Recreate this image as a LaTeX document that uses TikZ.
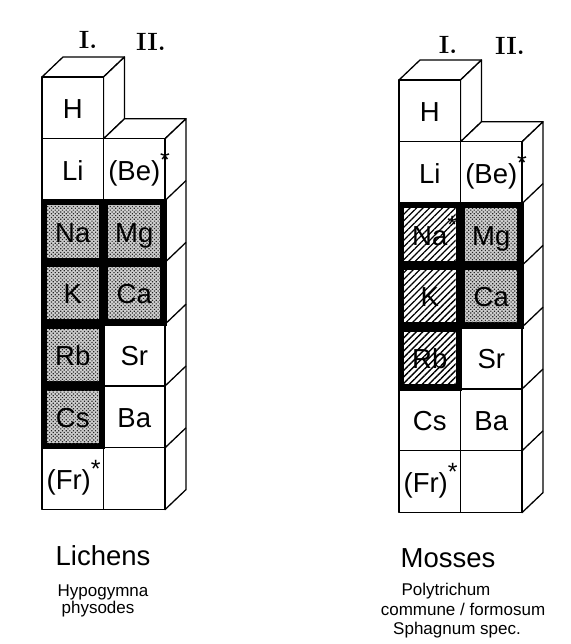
\documentclass[tikz,border=0pt]{standalone}
\usepackage{fontspec}
\setsansfont{Liberation Sans}
\usetikzlibrary{patterns,patterns.meta}
\def\W{61.5}
\def\H{61.8}
\def\DX{21}
\def\DY{-20}
\def\I{4.8}
\def\BL{41.5}
\newcommand\drawstack{%
  \draw[edge,fill=white] (0,0) -- (\W,0) -- (\W+\DX,\DY) -- (\DX,\DY) -- cycle;
  \draw[edge,fill=white] (\W,0) -- (\W+\DX,\DY) -- (\W+\DX,\H+\DY) -- (\W,\H) -- cycle;
  \draw[edge,fill=white] (\W,\H) -- (2*\W,\H) -- (2*\W+\DX,\H+\DY) -- (\W+\DX,\H+\DY) -- cycle;
  \draw[edge,fill=white] (2*\W,\H) -- (2*\W+\DX,\H+\DY) -- (2*\W+\DX,7*\H+\DY) -- (2*\W,7*\H) -- cycle;
  \foreach \k in {2,...,6} \draw[edge] (2*\W,\k*\H) -- (2*\W+\DX,\k*\H+\DY);
  \draw[edge,fill=white] (0,0) rectangle (\W,7*\H);
  \draw[edge,fill=white] (\W,\H) rectangle (2*\W,7*\H);
  \foreach \k in {1,...,6} \draw[edge] (0,\k*\H) -- (2*\W,\k*\H);
}
\newcommand\dotcell[2]{%
  \fill[gray!38] ({#1*\W+\I},{#2*\H+\I}) rectangle ({(#1+1)*\W-\I},{(#2+1)*\H-\I});
  \fill[pattern={Dots[distance=2.6pt,radius=0.85pt,angle=45]},pattern color=black!85]
    ({#1*\W+\I},{#2*\H+\I}) rectangle ({(#1+1)*\W-\I},{(#2+1)*\H-\I});
}
\newcommand\hatchcell[2]{%
  \fill[white] ({#1*\W+\I},{#2*\H+\I}) rectangle ({(#1+1)*\W-\I},{(#2+1)*\H-\I});
  \fill[pattern={Lines[distance=4.6pt,angle=45,line width=1.3pt]},pattern color=black]
    ({#1*\W+\I},{#2*\H+\I}) rectangle ({(#1+1)*\W-\I},{(#2+1)*\H-\I});
}
\newcommand\sstar{\rlap{\raisebox{12pt}{\fontsize{25}{25}\selectfont *}}}
\begin{document}
\begin{tikzpicture}[x=1pt,y=-1pt,
  edge/.style={line width=1.3pt,line join=round},
  el/.style={font=\fontsize{27.5}{27.5}\selectfont\sffamily,inner sep=0pt,anchor=base},
  num/.style={font=\fontsize{25}{25}\selectfont\rmfamily\bfseries,inner sep=0pt},
  big/.style={font=\fontsize{27.5}{27.5}\selectfont\sffamily,inner sep=0pt,anchor=base},
  small/.style={font=\fontsize{17}{17}\selectfont\sffamily,inner sep=0pt,anchor=base}]
\useasboundingbox (0,0) rectangle (570,644);
\fill[white] (0,0) rectangle (570,644);

% ---------------- Lichens stack ----------------
\begin{scope}[shift={(42,77)}]
  \drawstack
  \fill[black,draw=black,line width=3pt,line join=miter]
    (0,2*\H) -- (2*\W,2*\H) -- (2*\W,4*\H) -- (\W,4*\H) -- (\W,6*\H) -- (0,6*\H) -- cycle;
  \dotcell{0}{2}\dotcell{1}{2}
  \dotcell{0}{3}\dotcell{1}{3}
  \dotcell{0}{4}\dotcell{0}{5}
  \node[el] (LH)  at (\W/2,\BL) {H};
  \node[el] (LLi) at (\W/2,\H+\BL) {Li};
  \node[el] (LBe) at (1.5*\W,\H+\BL) {(Be)\sstar};
  \node[el] (LNa) at (\W/2,2*\H+\BL) {Na};
  \node[el] (LMg) at (1.5*\W,2*\H+\BL) {Mg};
  \node[el] (LK)  at (\W/2,3*\H+\BL) {K};
  \node[el] (LCa) at (1.5*\W,3*\H+\BL) {Ca};
  \node[el] (LRb) at (\W/2,4*\H+\BL) {Rb};
  \node[el] (LSr) at (1.5*\W,4*\H+\BL) {Sr};
  \node[el] (LCs) at (\W/2,5*\H+\BL) {Cs};
  \node[el] (LBa) at (1.5*\W,5*\H+\BL) {Ba};
  \node[el] (LFr) at (\W/2-4,6*\H+\BL) {(Fr)\sstar};
\end{scope}

% ---------------- Mosses stack ----------------
\begin{scope}[shift={(399,80)}]
  \drawstack
  \fill[black,draw=black,line width=3pt,line join=miter]
    (0,2*\H) -- (2*\W,2*\H) -- (2*\W,4*\H) -- (\W,4*\H) -- (\W,5*\H) -- (0,5*\H) -- cycle;
  \hatchcell{0}{2}\dotcell{1}{2}
  \hatchcell{0}{3}\dotcell{1}{3}
  \hatchcell{0}{4}
  \node[el] (MH)  at (\W/2,\BL) {H};
  \node[el] (MLi) at (\W/2,\H+\BL) {Li};
  \node[el] (MBe) at (1.5*\W,\H+\BL) {(Be)\sstar};
  \node[el] (MNa) at (\W/2,2*\H+\BL) {Na\sstar};
  \node[el] (MMg) at (1.5*\W,2*\H+\BL) {Mg};
  \node[el] (MK)  at (\W/2,3*\H+\BL) {K};
  \node[el] (MCa) at (1.5*\W,3*\H+\BL) {Ca};
  \node[el] (MRb) at (\W/2,4*\H+\BL) {Rb};
  \node[el] (MSr) at (1.5*\W,4*\H+\BL) {Sr};
  \node[el] (MCs) at (\W/2,5*\H+\BL) {Cs};
  \node[el] (MBa) at (1.5*\W,5*\H+\BL) {Ba};
  \node[el] (MFr) at (\W/2-4,6*\H+\BL) {(Fr)\sstar};
\end{scope}

% group numerals
\node[num] (LI)  at (88,40)  {I.};
\node[num] (LII) at (151,42) {II.};
\node[num] (MI)  at (448,45) {I.};
\node[num] (MII) at (510,46) {II.};

% captions
\node[big]   (lich)  at (103,565) {Lichens};
\node[small] (hypo)  at (103,596) {Hypogymna};
\node[small] (phys)  at (98,613)  {physodes};
\node[big]   (moss)  at (448,567) {Mosses};
\node[small] (poly)  at (446,595) {Polytrichum};
\node[small] (comm)  at (463,615) {commune / formosum};
\node[small] (sphag) at (457,634) {Sphagnum spec.};
\end{tikzpicture}
\end{document}
